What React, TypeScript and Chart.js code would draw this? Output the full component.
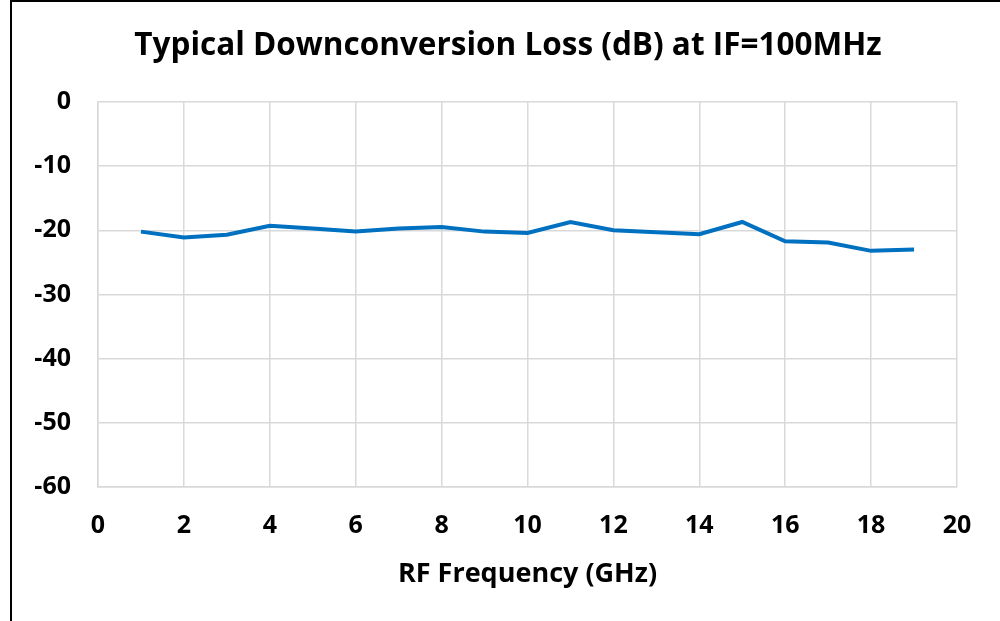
import React, { useEffect, useRef } from "react";
import { Chart, registerables } from "chart.js";

Chart.register(...registerables);

const frequencies = [1, 2, 3, 4, 5, 6, 7, 8, 9, 10, 11, 12, 13, 14, 15, 16, 17, 18, 19];
const lossDb = [-20.2, -21.1, -20.7, -19.3, -19.7, -20.2, -19.7, -19.5, -20.2, -20.4, -18.7, -20.0, -20.3, -20.6, -18.7, -21.7, -21.9, -23.2, -23.0];
const xTicks = [0, 2, 4, 6, 8, 10, 12, 14, 16, 18, 20];
const yTicks = [0, -10, -20, -30, -40, -50, -60];
const titleText = "Typical Downconversion Loss (dB) at IF=100MHz";
const xTitle = "RF Frequency (GHz)";

const FONT = "'Open Sans', 'Noto Sans', sans-serif";

const framePlugin = {
  id: "frameAndTitle",
  afterDraw(chart: any) {
    const ctx = chart.ctx;
    ctx.save();
    ctx.strokeStyle = "#000000";
    ctx.lineWidth = 2;
    ctx.beginPath();
    ctx.moveTo(11, 621);
    ctx.lineTo(11, 1);
    ctx.lineTo(1000, 1);
    ctx.stroke();
    ctx.fillStyle = "#000000";
    ctx.font = `bold 31.5px ${FONT}`;
    ctx.textAlign = "center";
    ctx.textBaseline = "middle";
    ctx.fillText(titleText, 508, 46);
    ctx.restore();
  },
};

export default function App() {
  const canvasRef = useRef<HTMLCanvasElement | null>(null);

  useEffect(() => {
    const canvas = canvasRef.current;
    if (!canvas) return;
    const chart = new Chart(canvas, {
      type: "line",
      data: {
        datasets: [
          {
            data: frequencies.map((f, i) => ({ x: f, y: lossDb[i] })),
            borderColor: "#0070C0",
            borderWidth: 4,
            pointRadius: 0,
            tension: 0,
            fill: false,
          },
        ],
      },
      options: {
        animation: false,
        responsive: false,
        maintainAspectRatio: false,
        layout: { padding: { top: 102, right: 43, left: 0, bottom: 0 } },
        plugins: {
          legend: { display: false },
          title: { display: false },
          tooltip: { enabled: false },
        },
        scales: {
          x: {
            type: "linear",
            min: 0,
            max: 20,
            afterBuildTicks: (scale: any) => {
              scale.ticks = xTicks.map((v) => ({ value: v }));
            },
            afterFit: (scale: any) => {
              scale.height = 134;
            },
            ticks: {
              color: "#000000",
              font: { family: FONT, size: 25, weight: "bold" },
              padding: 24,
              maxRotation: 0,
              autoSkip: false,
            },
            grid: { color: "#D9D9D9", lineWidth: 1.5, drawTicks: false },
            border: { color: "#D9D9D9", width: 1.5 },
            title: {
              display: true,
              text: xTitle,
              color: "#000000",
              font: { family: FONT, size: 27, weight: "bold" },
              padding: { top: 0, bottom: 30 },
            },
          },
          y: {
            type: "linear",
            min: -60,
            max: 0,
            afterBuildTicks: (scale: any) => {
              scale.ticks = yTicks.map((v) => ({ value: v }));
            },
            afterFit: (scale: any) => {
              scale.width = 98;
            },
            ticks: {
              color: "#000000",
              font: { family: FONT, size: 25, weight: "bold" },
              padding: 27,
              autoSkip: false,
            },
            grid: { color: "#D9D9D9", lineWidth: 1.5, drawTicks: false },
            border: { color: "#D9D9D9", width: 1.5 },
          },
        },
      },
      plugins: [framePlugin],
    });
    return () => chart.destroy();
  }, []);

  return (
    <div style={{ position: "absolute", left: 0, top: 0, width: 1000, height: 621, background: "#ffffff" }}>
      <canvas ref={canvasRef} width={1000} height={621} style={{ width: 1000, height: 621, display: "block" }} />
    </div>
  );
}
